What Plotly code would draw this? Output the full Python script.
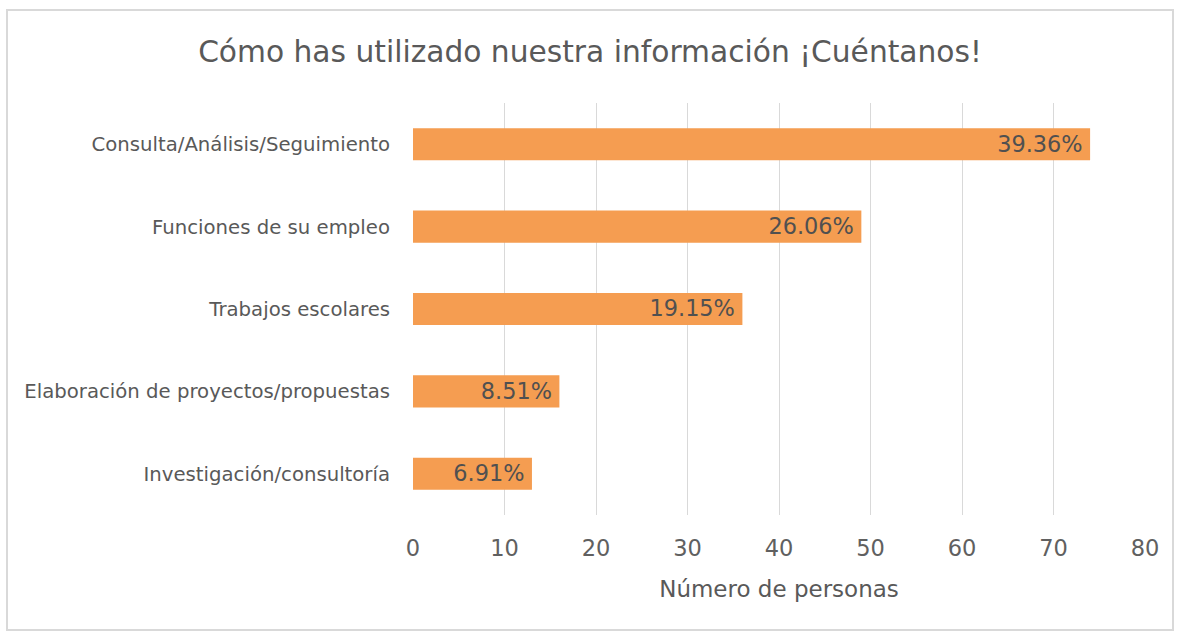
import plotly.graph_objects as go

categories = ["Consulta/Análisis/Seguimiento", "Funciones de su empleo", "Trabajos escolares",
              "Elaboración de proyectos/propuestas", "Investigación/consultoría"]
personas = [74, 49, 36, 16, 13]
porcentajes = ["39.36%", "26.06%", "19.15%", "8.51%", "6.91%"]
x_ticks = [0, 10, 20, 30, 40, 50, 60, 70, 80]

FONT = "DejaVu Sans"
W, H = 1180, 633
L, R, T, B = 413, 35, 103, 118
pw, ph = W - L - R, H - T - B

fig = go.Figure(go.Bar(
    y=categories, x=personas, orientation="h",
    marker=dict(color="#F59D51", line=dict(width=0)),
    text=[p + "\u2009" for p in porcentajes], textposition="inside", insidetextanchor="end",
    textfont=dict(family=FONT, size=24, color="#505050"),
    cliponaxis=False,
))

def px2x(p):
    return (p - L) / pw

def px2y(p):
    return (H - B - p) / ph

fig.update_layout(
    width=W, height=H,
    margin=dict(l=L, r=R, t=T, b=B),
    paper_bgcolor="white", plot_bgcolor="white",
    bargap=0.61,
    showlegend=False,
    title=dict(text="Cómo has utilizado nuestra información ¡Cuéntanos!",
               x=0.5, xref="container", xanchor="center", y=1 - 52 / H, yanchor="middle",
               font=dict(family=FONT, size=29.7, color="#595959")),
    xaxis=dict(range=[0, 80], tickvals=x_ticks, showgrid=True, gridcolor="#D9D9D9", gridwidth=1,
               zeroline=False, showline=False, ticks="", ticklabelstandoff=17,
               tickfont=dict(family=FONT, size=22.5, color="#606060"),
               title=dict(text="Número de personas", standoff=21,
                          font=dict(family=FONT, size=23, color="#595959"))),
    yaxis=dict(categoryorder="array", categoryarray=categories[::-1], showgrid=False,
               zeroline=False, showline=False, ticks="", ticklabelstandoff=22,
               tickfont=dict(family=FONT, size=19.7, color="#595959")),
    shapes=[dict(type="rect", xref="paper", yref="paper",
                 x0=px2x(7), x1=px2x(1173), y0=px2y(630), y1=px2y(10),
                 line=dict(color="#D9D9D9", width=2), fillcolor="rgba(0,0,0,0)", layer="below")],
)

fig.write_html("out.html", config={"displayModeBar": False},
               post_script="document.body.style.margin='0';")
